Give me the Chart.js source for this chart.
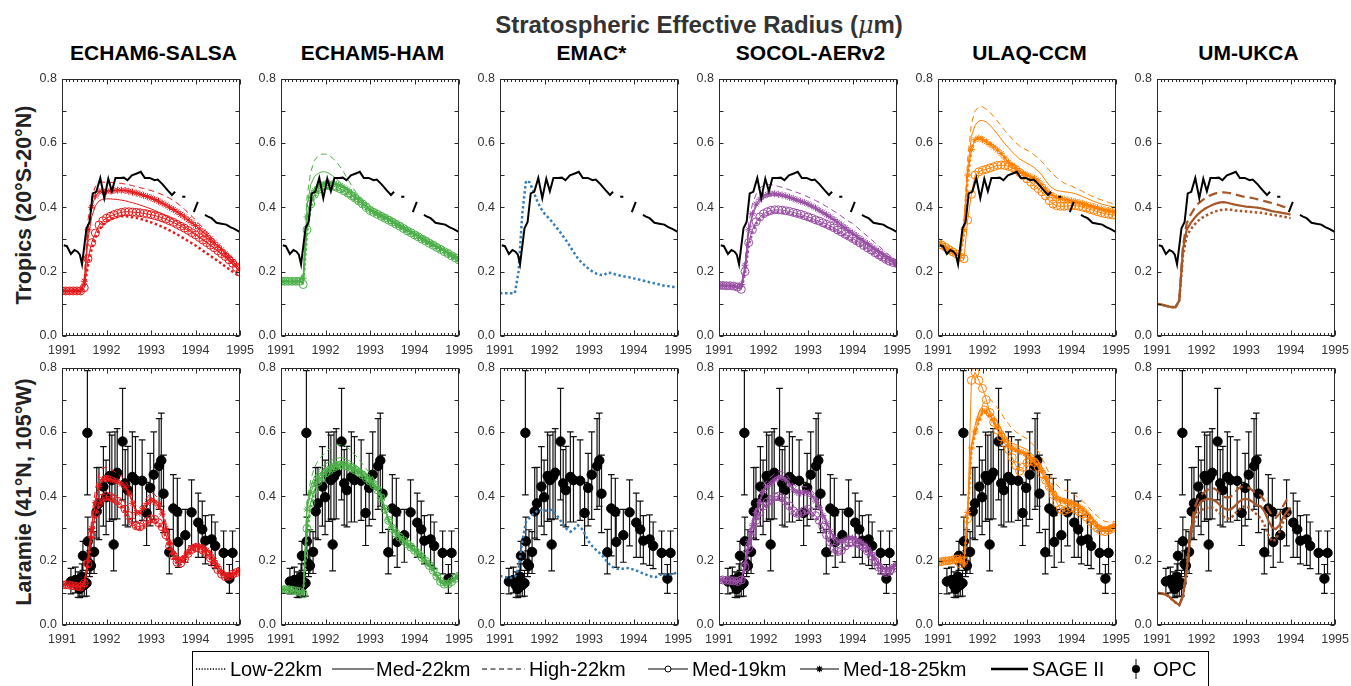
<!DOCTYPE html>
<html><head><meta charset="utf-8">
<script src="https://cdn.jsdelivr.net/npm/chart.js@4.4.0/dist/chart.umd.min.js"></script>
<style>
body{margin:0;width:1351px;height:686px;overflow:hidden;background:#fff;font-family:"Liberation Sans",Arial,sans-serif;position:relative}
canvas{position:absolute}
.t{position:absolute;white-space:nowrap;line-height:1}
svg{position:absolute;overflow:visible}
</style></head><body>
<div class="t" id="title" style="font-size:24px;font-weight:bold;color:#333;left:699px;top:13px;transform:translateX(-50%)">Stratospheric Effective Radius (<i style="font-family:'DejaVu Serif',serif;font-weight:normal">μ</i>m)</div>
<div class="t" style="font-size:21.5px;font-weight:bold;color:#222;left:25px;top:205px;transform:translate(-50%,-50%) rotate(-90deg)">Tropics (20°S-20°N)</div>
<div class="t" style="font-size:21.5px;font-weight:bold;color:#222;left:25px;top:492px;transform:translate(-50%,-50%) rotate(-90deg)">Laramie (41°N, 105°W)</div>
<div id="legend" style="position:absolute;left:192px;top:651px;width:1017px;height:45px;border:1px solid #000;box-sizing:border-box"></div>
<script>
// ---------- time grid (monthly) ----------
const months = Array.from({length:49},(_, i)=>1991+i/12);
const xTickYears = [1991,1992,1993,1994,1995];
const yTicks = [0,0.2,0.4,0.6,0.8];

// ---------- SAGE II (tropics) ----------
const sageT = [1991.04,1991.11,1991.20,1991.28,1991.35,1991.40,1991.45,1991.51,1991.55,1991.62,1991.69,1991.77,1991.86,1991.95,1992.04,1992.12,1992.20,1992.31,1992.39,1992.47,1992.57,1992.68,1992.77,1992.86,1992.97,1993.08,1993.15,1993.26,1993.37,1993.47,1993.54,1993.62,1993.70,1993.77,1993.87,1993.96,1994.05,1994.13,1994.21,1994.28,1994.36,1994.47,1994.58,1994.69,1994.78,1994.87,1995.0];
const sageV = [.282,.279,.255,.267,.262,.253,.223,.289,.335,.354,.443,.448,.491,.428,.489,.45,.491,.491,.492,.484,.499,.505,.51,.491,.491,.484,.486,.471,.453,.438,.448,null,.433,.433,null,.385,.417,null,.376,.371,.366,.352,.349,.346,.338,.333,.323];

// ---------- OPC (Laramie) ----------
const opcT  = [1991.20,1991.30,1991.36,1991.40,1991.45,1991.47,1991.50,1991.55,1991.57,1991.58,1991.62,1991.65,1991.72,1991.78,1991.83,1991.93,1991.99,1992.07,1992.12,1992.16,1992.19,1992.24,1992.36,1992.42,1992.48,1992.58,1992.65,1992.80,1992.90,1992.98,1993.06,1993.18,1993.23,1993.28,1993.41,1993.50,1993.59,1993.61,1993.77,1993.91,1994.06,1994.15,1994.22,1994.36,1994.44,1994.63,1994.76,1994.83];
const opcV  = [.135,.14,.122,.112,.15,.215,.124,.13,.597,.26,.19,.184,.227,.353,.378,.43,.397,.463,.45,.25,.46,.473,.57,.44,.419,.46,.45,.448,.348,.426,.467,.494,.511,.408,.226,.362,.352,.258,.279,.35,.318,.297,.262,.266,.246,.224,.144,.224];
const opcLo = [.097,.10,.086,.085,.09,.17,.088,.09,.404,.204,.15,.16,.16,.27,.265,.307,.281,.322,.33,.168,.33,.33,.389,.31,.305,.32,.32,.325,.247,.308,.328,.359,.369,.287,.159,.215,.26,.179,.195,.246,.21,.21,.19,.185,.175,.159,.098,.159];
const opcHi = [.176,.18,.165,.15,.19,.26,.16,.17,.79,.335,.23,.296,.29,.489,.49,.554,.512,.599,.59,.327,.6,.61,.735,.545,.555,.6,.585,.575,.443,.533,.6,.641,.658,.528,.297,.467,.456,.34,.359,.451,.41,.385,.34,.342,.32,.292,.188,.292];

// ---------- ECHAM6-SALSA ----------
const e6T_low = [.14,.14,.14,.14,.14,.14,.15,.22,.27,.305,.33,.345, .355,.362,.367,.37,.372,.372,.371,.369,.367,.364,.361,.357, .353,.349,.344,.339,.334,.328,.322,.316,.309,.302,.295,.288, .281,.273,.265,.257,.249,.241,.233,.225,.216,.208,.2,.192, .185];
const e6T_m19 = [.14,.14,.14,.14,.14,.14,.15,.24,.29,.32,.345,.358, .366,.372,.377,.381,.384,.386,.386,.385,.384,.383,.381,.379, .377,.374,.371,.367,.363,.358,.353,.347,.341,.335,.328,.321, .314,.306,.298,.29,.282,.274,.265,.256,.247,.237,.226,.213, .198];
const e6T_m22 = [.14,.14,.14,.14,.14,.14,.16,.3,.37,.405,.42,.425, .426,.426,.425,.424,.422,.42,.417,.414,.411,.407,.403,.399, .395,.39,.385,.38,.374,.368,.362,.355,.348,.341,.333,.325, .317,.309,.3,.291,.282,.273,.263,.253,.243,.233,.222,.212, .2];
const e6T_star = [.14,.14,.14,.14,.14,.14,.17,.33,.4,.435,.448,.45, .45,.451,.452,.453,.453,.452,.45,.447,.444,.441,.437,.433, .429,.424,.419,.413,.407,.4,.393,.386,.378,.37,.361,.352, .343,.333,.323,.313,.302,.291,.28,.268,.256,.244,.232,.22, .208];
const e6T_high = [.14,.14,.14,.14,.14,.14,.18,.36,.43,.465,.476,.478, .478,.477,.476,.475,.474,.472,.47,.467,.464,.461,.458,.455, .452,.448,.444,.439,.434,.428,.421,.413,.404,.394,.383,.372, .36,.348,.336,.323,.31,.297,.284,.271,.258,.245,.232,.22, .208];
const e6B_low = [.125,.125,.124,.122,.12,.118,.128,.18,.27,.335,.37,.388, .393,.39,.384,.377,.367,.352,.332,.312,.3,.298,.305,.316, .324,.322,.312,.298,.273,.238,.208,.19,.188,.2,.217,.23, .236,.234,.228,.218,.204,.186,.168,.155,.147,.149,.155,.16, .165];
const e6B_m19 = [.125,.125,.124,.122,.12,.118,.13,.19,.28,.345,.38,.395, .4,.398,.392,.385,.375,.36,.34,.32,.308,.305,.312,.322, .33,.328,.318,.305,.28,.245,.215,.195,.192,.205,.222,.235, .24,.238,.232,.222,.208,.19,.172,.158,.15,.152,.158,.163, .168];
const e6B_m22 = [.125,.125,.124,.122,.12,.118,.13,.205,.31,.39,.44,.462, .465,.462,.457,.452,.445,.434,.415,.383,.355,.353,.368,.385, .395,.39,.377,.35,.305,.26,.226,.208,.203,.213,.228,.243, .248,.247,.243,.235,.222,.202,.183,.166,.153,.154,.159,.165, .171];
const e6B_star = [.125,.125,.124,.122,.12,.118,.13,.2,.3,.38,.43,.452, .455,.452,.448,.444,.438,.428,.41,.378,.35,.348,.362,.378, .388,.382,.37,.345,.3,.255,.222,.205,.2,.21,.225,.24, .245,.244,.24,.232,.22,.2,.182,.165,.152,.153,.158,.164, .17];
const e6B_high = [.125,.125,.124,.122,.12,.118,.13,.21,.33,.42,.47,.488, .49,.485,.478,.47,.461,.449,.43,.398,.368,.365,.38,.398, .41,.405,.392,.365,.318,.27,.235,.215,.208,.218,.233,.248, .253,.252,.248,.24,.227,.206,.186,.168,.155,.155,.16,.166, .172];

// ---------- ECHAM5-HAM ----------
const e5T_low = [.17,.17,.17,.17,.17,.17,.165,.32,.4,.432,.448,.456, .46,.461,.459,.455,.45,.444,.437,.429,.421,.412,.403,.394, .385,.379,.373,.367,.361,.355,.349,.342,.336,.329,.322,.316, .309,.303,.296,.29,.283,.277,.27,.264,.257,.251,.244,.238, .231];
const e5T_m19 = [.17,.17,.17,.17,.17,.17,.16,.33,.41,.44,.455,.463, .467,.468,.466,.462,.457,.451,.444,.436,.428,.419,.41,.4, .39,.384,.378,.372,.366,.36,.354,.347,.341,.334,.327,.321, .314,.308,.301,.295,.288,.282,.275,.269,.262,.256,.249,.243, .236];
const e5T_m22 = [.17,.17,.17,.17,.17,.17,.19,.4,.47,.495,.505,.51, .51,.505,.497,.487,.476,.464,.452,.44,.43,.42,.41,.401, .393,.387,.381,.375,.369,.363,.357,.35,.344,.337,.33,.324, .317,.311,.304,.298,.291,.285,.278,.272,.265,.259,.252,.246, .239];
const e5T_star = [.17,.17,.17,.17,.17,.17,.18,.37,.43,.452,.464,.47, .474,.475,.474,.471,.467,.461,.454,.445,.435,.425,.415,.404, .394,.387,.381,.375,.369,.363,.357,.35,.344,.337,.33,.324, .317,.311,.304,.298,.291,.285,.278,.272,.265,.259,.252,.246, .239];
const e5T_high = [.17,.17,.17,.17,.17,.17,.2,.43,.51,.545,.56,.565, .565,.56,.552,.54,.525,.507,.487,.468,.45,.432,.416,.404, .395,.388,.381,.375,.369,.363,.357,.35,.344,.337,.33,.324, .317,.311,.304,.298,.291,.285,.278,.272,.265,.259,.252,.246, .239];
const e5B_low = [.11,.11,.11,.108,.106,.104,.097,.28,.37,.41,.437,.452, .465,.474,.482,.488,.491,.49,.486,.481,.475,.468,.46,.451, .441,.43,.414,.39,.356,.322,.297,.282,.27,.259,.249,.239, .229,.219,.207,.195,.182,.167,.15,.133,.125,.125,.133,.143, .15];
const e5B_m19 = [.11,.11,.11,.108,.106,.104,.097,.3,.38,.42,.445,.46, .472,.48,.488,.494,.497,.496,.492,.487,.481,.474,.466,.457, .447,.436,.42,.395,.36,.325,.3,.285,.273,.262,.252,.242, .232,.222,.21,.198,.185,.17,.152,.135,.127,.127,.135,.145, .152];
const e5B_m22 = [.11,.11,.11,.108,.106,.104,.1,.37,.43,.46,.478,.49, .5,.508,.514,.518,.52,.518,.513,.506,.498,.489,.479,.467, .455,.442,.425,.398,.362,.327,.302,.287,.275,.264,.254,.244, .234,.224,.212,.2,.187,.172,.154,.137,.129,.129,.137,.147, .154];
const e5B_star = [.11,.11,.11,.108,.106,.104,.1,.36,.41,.44,.458,.47, .48,.488,.494,.499,.5,.499,.495,.49,.484,.477,.469,.46, .45,.438,.422,.397,.362,.327,.302,.287,.275,.264,.254,.244, .234,.224,.212,.2,.187,.172,.154,.137,.129,.129,.137,.147, .154];
const e5B_high = [.11,.11,.11,.108,.106,.104,.1,.38,.45,.49,.51,.525, .537,.547,.555,.559,.56,.557,.55,.54,.528,.515,.5,.485, .47,.455,.435,.405,.365,.33,.304,.289,.277,.266,.256,.246, .236,.226,.214,.202,.189,.174,.156,.139,.131,.131,.139,.149, .156];

// ---------- EMAC* ----------
const emT_low = [.133,.133,.133,.133,.133,.2,.38,.482,.477,.45,.42,.397, .38,.368,.355,.34,.326,.31,.294,.276,.258,.241,.228,.218, .207,.2,.194,.19,.189,.197,.196,.192,.189,.186,.184,.182, .179,.177,.174,.171,.168,.165,.163,.16,.157,.155,.154,.152, .151];
const emB_low = [.152,.15,.148,.146,.15,.175,.26,.32,.333,.345,.354,.357, .355,.356,.358,.345,.33,.312,.298,.29,.298,.31,.3,.28, .258,.243,.232,.222,.21,.195,.182,.177,.174,.175,.177,.176, .172,.168,.163,.158,.154,.15,.149,.155,.159,.156,.157,.16, .166];

// ---------- SOCOL-AERv2 ----------
const soT_low = [.157,.157,.156,.156,.155,.152,.145,.195,.28,.322,.348,.363, .373,.379,.383,.385,.385,.384,.382,.38,.377,.374,.371,.367, .363,.359,.354,.35,.345,.34,.335,.329,.322,.316,.309,.303, .296,.289,.282,.274,.267,.26,.252,.245,.238,.231,.225,.221, .218];
const soT_m19 = [.157,.157,.156,.156,.155,.152,.145,.2,.29,.33,.355,.37, .38,.386,.39,.392,.392,.391,.389,.387,.384,.381,.378,.374, .37,.366,.361,.357,.352,.347,.342,.336,.329,.323,.316,.31, .303,.296,.289,.281,.274,.267,.259,.252,.245,.238,.232,.228, .225];
const soT_m22 = [.157,.157,.156,.156,.155,.152,.158,.21,.32,.372,.402,.418, .428,.433,.436,.437,.436,.434,.431,.427,.423,.419,.415,.411, .406,.4,.394,.387,.38,.373,.366,.358,.35,.341,.333,.325, .317,.309,.3,.292,.284,.276,.268,.26,.252,.244,.236,.229, .222];
const soT_star = [.157,.157,.156,.156,.155,.152,.16,.22,.33,.38,.41,.425, .435,.44,.442,.442,.44,.438,.435,.431,.427,.423,.419,.415, .41,.404,.398,.391,.384,.377,.37,.362,.354,.345,.337,.328, .32,.312,.303,.295,.287,.279,.271,.263,.255,.247,.239,.232, .225];
const soT_high = [.157,.157,.156,.156,.155,.152,.16,.23,.35,.41,.44,.46, .468,.47,.47,.468,.465,.462,.458,.454,.45,.446,.442,.437, .432,.427,.421,.415,.409,.402,.395,.388,.38,.372,.364,.356, .35,.34,.33,.32,.31,.3,.29,.28,.27,.26,.25,.24, .23];
const soB_low = [.14,.14,.139,.138,.137,.135,.138,.175,.232,.282,.318,.343, .363,.375,.383,.391,.393,.388,.378,.363,.348,.34,.341,.348, .353,.345,.333,.318,.298,.273,.251,.231,.221,.225,.238,.248, .251,.248,.243,.235,.223,.208,.19,.173,.162,.157,.162,.17, .179];
const soB_m19 = [.14,.14,.139,.138,.137,.135,.14,.18,.24,.29,.325,.35, .37,.382,.39,.398,.4,.395,.385,.37,.355,.347,.348,.355, .36,.352,.34,.325,.305,.28,.258,.238,.228,.232,.245,.255, .258,.255,.25,.242,.23,.215,.197,.18,.168,.163,.168,.176, .185];
const soB_m22 = [.14,.14,.139,.138,.137,.135,.14,.19,.265,.318,.358,.388, .422,.437,.447,.457,.463,.464,.456,.441,.426,.418,.416,.418, .416,.406,.391,.37,.345,.319,.293,.273,.261,.261,.268,.273, .273,.268,.263,.255,.243,.228,.208,.193,.18,.174,.177,.184, .192];
const soB_star = [.14,.14,.139,.138,.137,.135,.14,.19,.26,.31,.35,.38, .415,.43,.44,.45,.457,.458,.45,.435,.42,.412,.41,.412, .41,.4,.385,.365,.34,.315,.29,.27,.258,.258,.265,.27, .27,.265,.26,.252,.24,.225,.205,.19,.178,.172,.175,.182, .19];
const soB_high = [.14,.14,.139,.138,.137,.135,.14,.195,.27,.325,.368,.4, .435,.45,.46,.47,.476,.477,.469,.454,.438,.43,.428,.43, .428,.418,.402,.38,.353,.325,.298,.277,.264,.264,.27,.275, .275,.27,.265,.257,.245,.23,.21,.195,.182,.176,.179,.186, .194];

// ---------- ULAQ-CCM ----------
const ulT_low = [.29,.283,.276,.268,.261,.255,.25,.32,.49,.58,.612,.618, .615,.608,.6,.59,.58,.568,.555,.542,.532,.522,.512,.506, .5,.494,.488,.48,.468,.455,.443,.435,.428,.425,.423,.421, .418,.416,.413,.41,.406,.403,.4,.396,.393,.39,.388,.386, .383];
const ulT_m19 = [.29,.283,.276,.268,.261,.255,.245,.24,.36,.44,.5,.51, .515,.518,.522,.526,.53,.531,.53,.527,.523,.517,.508,.498, .488,.478,.468,.458,.448,.435,.42,.41,.405,.403,.403,.404, .405,.405,.403,.4,.397,.393,.39,.386,.383,.38,.378,.376, .375];
const ulT_m22 = [.29,.283,.276,.268,.261,.255,.25,.35,.52,.62,.655,.668, .67,.665,.655,.642,.628,.612,.597,.585,.572,.56,.55,.543, .537,.53,.522,.512,.5,.483,.468,.458,.452,.45,.448,.447, .445,.442,.438,.433,.428,.423,.418,.414,.41,.407,.404,.402, .4];
const ulT_star = [.29,.283,.276,.268,.261,.255,.25,.33,.5,.58,.61,.615, .61,.603,.595,.587,.578,.567,.553,.54,.53,.52,.51,.505, .5,.495,.49,.482,.47,.457,.445,.437,.43,.427,.425,.423, .42,.418,.415,.412,.408,.405,.402,.398,.395,.392,.39,.388, .385];
const ulT_high = [.29,.283,.276,.268,.261,.255,.25,.36,.55,.66,.7,.712, .712,.705,.695,.682,.668,.653,.638,.625,.612,.6,.59,.583, .577,.57,.562,.553,.542,.528,.515,.503,.492,.483,.475,.47, .466,.46,.455,.449,.443,.437,.432,.427,.423,.419,.415,.412, .41];
const ulB_low = [.195,.197,.199,.2,.202,.205,.21,.19,.34,.54,.595,.635, .66,.66,.645,.63,.61,.59,.57,.555,.545,.54,.535,.53, .525,.515,.505,.495,.475,.45,.425,.405,.39,.383,.38,.377, .375,.37,.363,.355,.343,.33,.315,.303,.295,.293,.295,.3, .305];
const ulB_m19 = [.195,.197,.199,.2,.202,.205,.19,.2,.33,.76,.785,.76, .735,.7,.66,.63,.605,.585,.565,.545,.52,.495,.478,.49, .505,.51,.505,.49,.47,.45,.43,.405,.38,.36,.355,.36, .365,.36,.352,.345,.335,.322,.31,.3,.292,.29,.295,.3, .305];
const ulB_m22 = [.195,.197,.199,.2,.202,.205,.21,.19,.36,.56,.62,.66, .68,.68,.665,.65,.63,.61,.59,.575,.565,.56,.555,.55, .545,.535,.522,.51,.49,.465,.44,.418,.402,.395,.392,.389, .386,.381,.374,.366,.354,.341,.326,.313,.305,.303,.305,.31, .315];
const ulB_star = [.195,.197,.199,.2,.202,.205,.21,.19,.35,.55,.6,.64, .665,.665,.65,.635,.615,.595,.575,.56,.55,.545,.54,.535, .53,.52,.51,.5,.48,.455,.43,.41,.395,.388,.385,.382, .38,.375,.368,.36,.348,.335,.32,.308,.3,.298,.3,.305, .31];
const ulB_high = [.195,.197,.199,.2,.202,.205,.21,.19,.36,.55,.62,.66, .685,.7,.7,.69,.675,.658,.64,.625,.61,.6,.592,.585, .578,.568,.555,.54,.52,.495,.47,.45,.435,.425,.42,.415, .41,.403,.395,.385,.373,.36,.348,.337,.328,.322,.32,.32, .322];

// ---------- UM-UKCA (to 1994.0) ----------
const ukT_low  = [.1,.098,.095,.092,.09,.09,.11,.25,.31,.33,.345,.357, .366,.373,.379,.384,.388,.391,.393,.393,.392,.39,.389,.388, .387,.386,.385,.384,.383,.381,.379,.377,.375,.373,.371,.369, .366];
const ukT_m22  = [.1,.098,.095,.092,.09,.09,.11,.27,.33,.35,.365,.378, .388,.396,.402,.408,.412,.415,.416,.414,.411,.408,.406,.404, .402,.401,.4,.399,.397,.394,.391,.388,.386,.384,.382,.38, .377];
const ukT_high = [.1,.098,.095,.092,.09,.09,.11,.28,.35,.375,.395,.41, .42,.428,.435,.44,.444,.446,.446,.445,.443,.44,.437,.434, .432,.43,.428,.425,.422,.419,.416,.413,.41,.406,.402,.399, .395];
const ukB_low  = [.1,.098,.096,.09,.08,.07,.062,.09,.165,.27,.32,.345, .358,.363,.366,.364,.357,.346,.336,.33,.333,.345,.358,.367, .369,.364,.353,.342,.33,.31,.28,.26,.265,.29,.32,.34, .348];
const ukB_m22  = [.1,.098,.096,.09,.08,.07,.062,.09,.17,.28,.34,.368, .385,.39,.392,.39,.383,.372,.363,.358,.36,.37,.382,.39, .392,.388,.38,.372,.368,.352,.325,.303,.298,.31,.335,.352, .365];
const ukB_high = [.1,.098,.096,.09,.08,.07,.062,.09,.175,.29,.36,.39, .405,.415,.423,.427,.42,.408,.398,.395,.4,.412,.425,.43, .43,.425,.415,.408,.402,.385,.36,.34,.333,.345,.37,.39, .4];

const modelNames = ['ECHAM6-SALSA','ECHAM5-HAM','EMAC*','SOCOL-AERv2','ULAQ-CCM','UM-UKCA'];
const modelColors = ['#e41a1c','#4daf4a','#377eb8','#984ea3','#ff7f00','#a65628'];

// ---------- build ----------
const FONT = '"Liberation Sans", Arial, sans-serif';
Chart.defaults.font.family = FONT;

const panels = [
  {top:{low:e6T_low,m22:e6T_m22,high:e6T_high,m19:e6T_m19,star:e6T_star}, bot:{low:e6B_low,m22:e6B_m22,high:e6B_high,m19:e6B_m19,star:e6B_star}},
  {top:{low:e5T_low,m22:e5T_m22,high:e5T_high,m19:e5T_m19,star:e5T_star}, bot:{low:e5B_low,m22:e5B_m22,high:e5B_high,m19:e5B_m19,star:e5B_star}},
  {top:{low:emT_low}, bot:{low:emB_low}},
  {top:{low:soT_low,m22:soT_m22,high:soT_high,m19:soT_m19,star:soT_star}, bot:{low:soB_low,m22:soB_m22,high:soB_high,m19:soB_m19,star:soB_star}},
  {top:{low:ulT_low,m22:ulT_m22,high:ulT_high,m19:ulT_m19,star:ulT_star}, bot:{low:ulB_low,m22:ulB_m22,high:ulB_high,m19:ulB_m19,star:ulB_star}},
  {top:{low:ukT_low,m22:ukT_m22,high:ukT_high}, bot:{low:ukB_low,m22:ukB_m22,high:ukB_high}, thick:true}
];

const pts = arr => arr.map((v,i)=>({x:months[i], y:v}));

const framePlugin = {
  id:'frame',
  afterDatasetsDraw(chart){
    const {ctx, chartArea:a, scales:{x,y}} = chart;
    ctx.save();
    ctx.strokeStyle = '#2a2a2a'; ctx.lineWidth = 1;
    const L = Math.round(a.left)+0.5, R = Math.round(a.right)-0.5, T = Math.round(a.top)+0.5, B = Math.round(a.bottom)-0.5;
    ctx.strokeRect(L, T, R-L, B-T);
    ctx.beginPath();
    months.forEach((m,i)=>{
      const px = Math.round(x.getPixelForValue(m))+0.5;
      const len = (i%12===0) ? 5 : 2.5;
      ctx.moveTo(px,B); ctx.lineTo(px,B-len);
      ctx.moveTo(px,T); ctx.lineTo(px,T+len);
    });
    for (let k=0;k<=8;k++){
      const py = Math.round(y.getPixelForValue(k/10))+0.5;
      ctx.moveTo(L,py); ctx.lineTo(L+4,py);
      ctx.moveTo(R,py); ctx.lineTo(R-4,py);
    }
    ctx.stroke();
    ctx.restore();
  }
};

function modelSets(s, color, thick){
  const ds = [];
  const base = {borderColor:color, backgroundColor:color, fill:false, tension:0, spanGaps:false, clip:0};
  if (s.star) ds.push({...base, data:pts(s.star), borderWidth:1, pointStyle:'star', pointRadius:3.5, pointBorderWidth:1, pointBorderColor:color});
  if (s.m19) ds.push({...base, data:pts(s.m19), borderWidth:1, pointStyle:'circle', pointRadius:4, pointBorderWidth:1, pointBorderColor:color, pointBackgroundColor:'rgba(255,255,255,0)'});
  if (s.high) ds.push({...base, data:pts(s.high), borderWidth:thick?2.2:1, borderDash:thick?[9,5]:[6,4], pointRadius:0});
  if (s.m22) ds.push({...base, data:pts(s.m22), borderWidth:thick?2.2:1, pointRadius:0});
  if (s.low) ds.push({...base, data:pts(s.low), borderWidth:2.5, borderDash:[2.5,2.5], pointRadius:0});
  return ds;
}

function sageSet(){
  return {data:sageT.map((t,i)=>({x:t,y:sageV[i]})), borderColor:'#000', borderWidth:2, pointRadius:0, spanGaps:false, tension:0, clip:0};
}
function opcSets(){
  const bars = [];
  const w = 0.075;
  opcT.forEach((t,i)=>{
    bars.push({x:t,y:opcLo[i]},{x:t,y:opcHi[i]},{x:t,y:null},
              {x:t-w,y:opcHi[i]},{x:t+w,y:opcHi[i]},{x:t,y:null},
              {x:t-w,y:opcLo[i]},{x:t+w,y:opcLo[i]},{x:t,y:null});
  });
  return [
    {data:opcT.map((t,i)=>({x:t,y:opcV[i]})), showLine:false, pointRadius:4.7, pointBackgroundColor:'#000', pointBorderColor:'#000', borderColor:'#000', clip:0},
    {data:bars, borderColor:'#111', borderWidth:1.2, pointRadius:0, spanGaps:false, tension:0, clip:0}
  ];
}

const PW = 183, PH = 260, PADL = 40, PADT = 10, PADR = 16, PADB = 26;
const rowTop = [75.5, 365];

function makeChart(col, row){
  const left = 62 + 219*col;
  const cv = document.createElement('canvas');
  cv.width = PADL+PW+PADR; cv.height = PADT+PH+PADB;
  cv.style.left = (left-PADL)+'px';
  cv.style.top = (Math.round(rowTop[row])-PADT)+'px';
  document.body.appendChild(cv);
  const p = panels[col];
  const color = modelColors[col];
  let datasets;
  if (row===0) datasets = [sageSet(), ...modelSets(p.top, color, p.thick)];
  else datasets = [...modelSets(p.bot, color, p.thick), ...opcSets()];
  const tickFont = {size:12.5, family:FONT};
  new Chart(cv, {
    type:'line',
    data:{datasets},
    options:{
      responsive:false, animation:false, devicePixelRatio:1, events:[],
      layout:{padding:{left:0, top:PADT, right:PADR, bottom:0}},
      plugins:{legend:{display:false}, tooltip:{enabled:false}},
      scales:{
        x:{type:'linear', min:xTickYears[0], max:xTickYears[xTickYears.length-1],
           grid:{display:false, drawTicks:false}, border:{display:false},
           afterBuildTicks:s=>{s.ticks = xTickYears.map(v=>({value:v}));},
           ticks:{autoSkip:false, maxRotation:0, padding:7, color:'#333', font:tickFont, callback:v=>String(v)},
           afterFit:s=>{s.height=PADB;}},
        y:{type:'linear', min:0, max:0.8,
           grid:{display:false, drawTicks:false}, border:{display:false},
           afterBuildTicks:s=>{s.ticks = yTicks.map(v=>({value:v}));},
           ticks:{padding:5, color:'#333', font:tickFont, callback:v=>Number(v).toFixed(1)},
           afterFit:s=>{s.width=PADL;}}
      }
    },
    plugins:[framePlugin]
  });
}

for (let c=0;c<6;c++){
  const d = document.createElement('div');
  d.className='t';
  d.textContent = modelNames[c];
  d.style.cssText = 'font-size:21px;font-weight:bold;color:#000;top:42px;left:'+(62+219*c+PW/2)+'px;transform:translateX(-50%)';
  document.body.appendChild(d);
  makeChart(c,0); makeChart(c,1);
}

// ---------- legend ----------
const legendLabels = ['Low-22km','Med-22km','High-22km','Med-19km','Med-18-25km','SAGE II','OPC'];
const legendSampleX = [196,332,482,648,800,991,1131];
const legendSampleW = [30,42,43,40,39,37,10];
const legendTextX = [230,376,529,692,843,1032,1153];
function svgEl(x,w,inner){
  const s = document.createElementNS('http://www.w3.org/2000/svg','svg');
  s.setAttribute('width',w); s.setAttribute('height',30);
  s.style.left = x+'px'; s.style.top = '654px';
  s.innerHTML = inner;
  document.body.appendChild(s);
}
const cy = 15;
legendLabels.forEach((lab,i)=>{
  const x = legendSampleX[i], w = legendSampleW[i];
  let inner = '';
  if (i===0) inner = `<line x1="0" y1="${cy}" x2="${w}" y2="${cy}" stroke="#000" stroke-width="1.3" stroke-dasharray="1.2 1.6"/>`;
  if (i===1) inner = `<line x1="0" y1="${cy}" x2="${w}" y2="${cy}" stroke="#000" stroke-width="1"/>`;
  if (i===2) inner = `<line x1="0" y1="${cy}" x2="${w}" y2="${cy}" stroke="#000" stroke-width="1" stroke-dasharray="5 3.5"/>`;
  if (i===3) inner = `<line x1="0" y1="${cy}" x2="${w}" y2="${cy}" stroke="#000" stroke-width="1"/><circle cx="${w/2}" cy="${cy}" r="3" fill="#fff" stroke="#000" stroke-width="1"/>`;
  if (i===4) { const c=w/2, r=3.2; inner = `<line x1="0" y1="${cy}" x2="${w}" y2="${cy}" stroke="#000" stroke-width="1"/><path d="M${c-r} ${cy}H${c+r}M${c} ${cy-r}V${cy+r}M${c-r*.7} ${cy-r*.7}L${c+r*.7} ${cy+r*.7}M${c-r*.7} ${cy+r*.7}L${c+r*.7} ${cy-r*.7}" stroke="#000" stroke-width="1.1"/>`; }
  if (i===5) inner = `<line x1="0" y1="${cy}" x2="${w}" y2="${cy}" stroke="#000" stroke-width="2.6"/>`;
  if (i===6) inner = `<line x1="5" y1="${cy-10}" x2="5" y2="${cy+10}" stroke="#000" stroke-width="1"/><circle cx="5" cy="${cy}" r="4" fill="#000"/>`;
  svgEl(x,w,inner);
  const t = document.createElement('div');
  t.className='t'; t.textContent = lab;
  t.style.cssText = 'font-size:20px;color:#000;top:659px;left:'+legendTextX[i]+'px';
  document.body.appendChild(t);
});
</script>
</body></html>
